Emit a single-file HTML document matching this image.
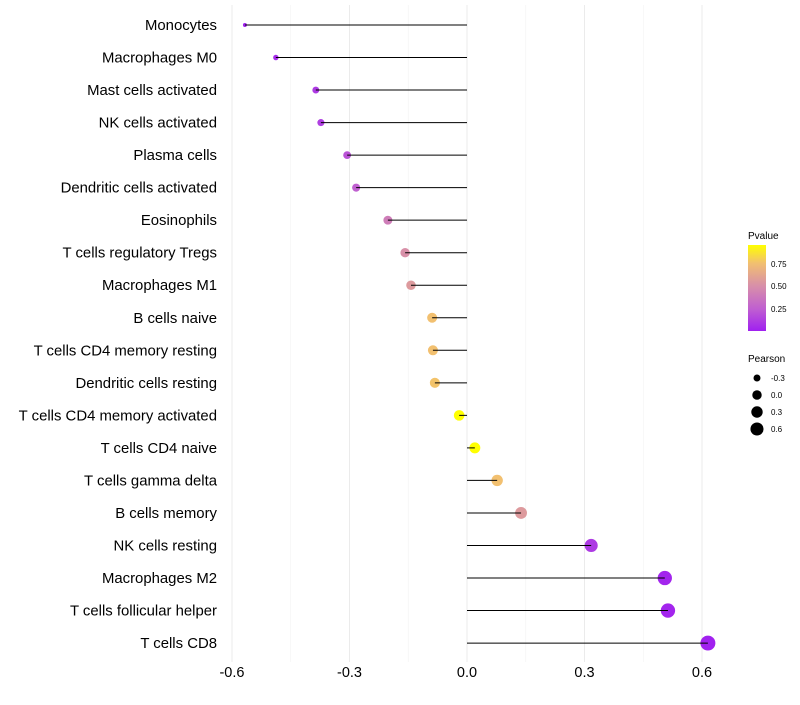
<!DOCTYPE html>
<html><head><meta charset="utf-8"><style>
body{margin:0;background:#fff;font-family:"Liberation Sans",sans-serif;}
svg text{font-family:"Liberation Sans",sans-serif;}
</style></head><body>
<svg id="chart" width="800" height="700" xmlns="http://www.w3.org/2000/svg">
<defs><linearGradient id="pg" x1="0" y1="1" x2="0" y2="0">
<stop offset="0" stop-color="#a020f0"/><stop offset="0.26" stop-color="#c060d0"/><stop offset="0.53" stop-color="#d890a8"/><stop offset="0.79" stop-color="#f2c070"/><stop offset="1" stop-color="#ffff00"/></linearGradient></defs>
<g id="grid"></g><g id="marks"></g><g id="labels"></g><g id="xticks"></g>
<g>
<text x="748" y="239" font-size="10">Pvalue</text>
<rect x="748" y="245" width="18" height="86" fill="url(#pg)"/>
<text x="771" y="267" font-size="8">0.75</text>
<text x="771" y="289" font-size="8">0.50</text>
<text x="771" y="312" font-size="8">0.25</text>
</g>
<g id="sizeLegend">
<text x="748" y="362" font-size="10">Pearson</text>
</g>
</svg>
<script>
const categories=["Monocytes","Macrophages M0","Mast cells activated","NK cells activated","Plasma cells","Dendritic cells activated","Eosinophils","T cells regulatory  Tregs ","Macrophages M1","B cells naive","T cells CD4 memory resting","Dendritic cells resting","T cells CD4 memory activated","T cells CD4 naive","T cells gamma delta","B cells memory","NK cells resting","Macrophages M2","T cells follicular helper","T cells CD8"];
const pearson=[-0.567,-0.488,-0.386,-0.373,-0.306,-0.283,-0.202,-0.158,-0.143,-0.089,-0.087,-0.082,-0.020,0.020,0.077,0.138,0.317,0.505,0.513,0.615];
const pvalue=[0.01,0.05,0.1,0.12,0.2,0.25,0.4,0.5,0.55,0.75,0.75,0.76,0.95,0.95,0.75,0.55,0.1,0.02,0.02,0.005];
const xTicks=[-0.6,-0.3,0.0,0.3,0.6];
const xTickLabels=["-0.6","-0.3","0.0","0.3","0.6"];
const sizeBreaks=[-0.3,0.0,0.3,0.6];
const ns="http://www.w3.org/2000/svg";
const X=v=>467+v*391.7;
const Y=i=>25+i*32.53;
const R=v=>Math.sqrt(Math.max(2.5+44*(v+0.6),1));
const stops=[[0,[160,32,240]],[0.25,[192,96,208]],[0.5,[216,144,168]],[0.75,[242,192,112]],[0.95,[255,255,0]]];
function col(p){if(p>=0.95)return"rgb(255,255,0)";for(let k=0;k<stops.length-1;k++){const a=stops[k],b=stops[k+1];if(p<=b[0]){const t=(p-a[0])/(b[0]-a[0]);const c=a[1].map((x,j)=>Math.round(x+(b[1][j]-x)*t));return`rgb(${c})`;}}return"rgb(255,255,0)";}
function mk(t,at,p){const e=document.createElementNS(ns,t);for(const k in at)e.setAttribute(k,at[k]);p.appendChild(e);return e;}
const grid=document.getElementById('grid'),marks=document.getElementById('marks'),labels=document.getElementById('labels'),xt=document.getElementById('xticks');
[-0.45,-0.15,0.15,0.45].forEach(v=>{const l=mk('line',{x1:X(v),x2:X(v),y1:5,y2:662,stroke:'#f3f3f3','stroke-width':0.6},grid);

});
xTicks.forEach((v,i)=>{const l=mk('line',{x1:X(v),x2:X(v),y1:5,y2:662,stroke:'#ebebeb','stroke-width':1},grid);


const t=mk('text',{x:X(v),y:677,'font-size':14.5,'text-anchor':'middle'},xt);t.textContent=xTickLabels[i];

});
categories.forEach((c,i)=>{const y=Y(i);
const g=mk('circle',{cx:X(pearson[i]),cy:y,r:R(pearson[i]),fill:col(pvalue[i])},marks);


const l=mk('line',{x1:X(0),x2:X(pearson[i]),y1:y,y2:y,stroke:'#000','stroke-width':1},marks);


const t=mk('text',{x:217,y:y+5,'font-size':14.9,'text-anchor':'end'},labels);t.textContent=c;

});
const sl=document.getElementById('sizeLegend');
sizeBreaks.forEach((v,i)=>{const y=378+i*17;
const c=mk('circle',{cx:757,cy:y,r:R(v)*0.88,fill:'#000'},sl);


const t=mk('text',{x:771,y:y+3,'font-size':8},sl);t.textContent=v.toFixed(1);

});
</script>
</body></html>
